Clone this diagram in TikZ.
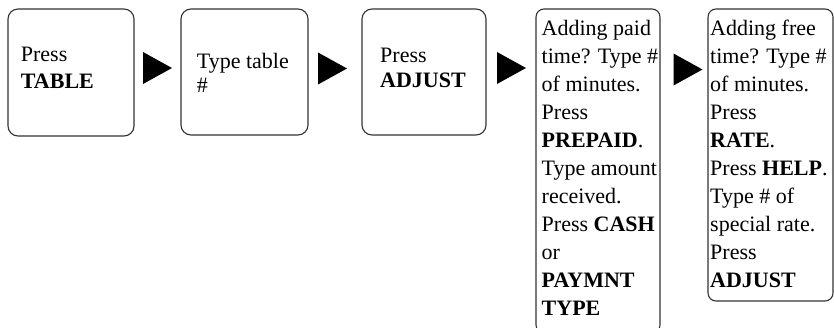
\documentclass[tikz,border=0pt]{standalone}
\usepackage{fontspec}
\setmainfont{Liberation Serif}
\usetikzlibrary{calc,positioning}

\tikzset{
  stepbox/.style={rectangle,draw=black!80,line width=1.1pt,rounded corners=10pt,inner sep=0pt},
  steptext/.style={anchor=base west,inner sep=0pt,align=left,font=\fontsize{22}{28}\selectfont},
  pointer/.style={fill=black}
}

\begin{document}
\begin{tikzpicture}[x=1pt,y=-1pt]
\useasboundingbox (0,0) rectangle (834,327);
% Boxes
\node[stepbox,minimum width=126pt,minimum height=127pt] (table) at (71,72.5) {};
\node[stepbox,minimum width=127pt,minimum height=126pt] (tnum) at (244.5,72) {};
\node[stepbox,minimum width=124pt,minimum height=126pt] (adjust) at (424,72) {};
\node[stepbox,minimum width=124pt,minimum height=324pt,rounded corners=8pt] (paid) at (598,171) {};
\node[stepbox,minimum width=125pt,minimum height=292pt,rounded corners=8pt] (free) at (770.5,155) {};
% Texts (placed at the baseline of their last line)
\node[steptext,font=\fontsize{22}{27}\selectfont] (tabletxt) at (20.7,88) {Press\\\textbf{TABLE}};
\node[steptext,font=\fontsize{22}{24}\selectfont] (tnumtxt) at (196.7,92) {Type table\\\#};
\node[steptext,font=\fontsize{22}{25}\selectfont] (adjusttxt) at (380,87) {Press\\\textbf{ADJUST}};
\node[steptext] (paidtxt) at (541.5,315.5) {Adding paid\\time? Type \#\\of minutes.\\Press\\\textbf{PREPAID}.\\Type amount\\received.\\Press \textbf{CASH}\\or\\\textbf{PAYMNT}\\\textbf{TYPE}};
\node[steptext] (freetxt) at (710,287.5) {Adding free\\time? Type \#\\of minutes.\\Press\\\textbf{RATE}.\\Press \textbf{HELP}.\\Type \# of\\special rate.\\Press\\\textbf{ADJUST}};
% Pointers between boxes
\coordinate (a1) at (157.5,68);
\coordinate (a2) at (332.5,68.5);
\coordinate (a3) at (511.5,68);
\coordinate (a4) at (688,69.5);
\foreach \c in {a1,a2,a3,a4}{
  \fill[pointer] ($(\c)+(-14.5,-16)$) -- ($(\c)+(14.5,0)$) -- ($(\c)+(-14.5,16)$) -- cycle;
}
\end{tikzpicture}
\end{document}
